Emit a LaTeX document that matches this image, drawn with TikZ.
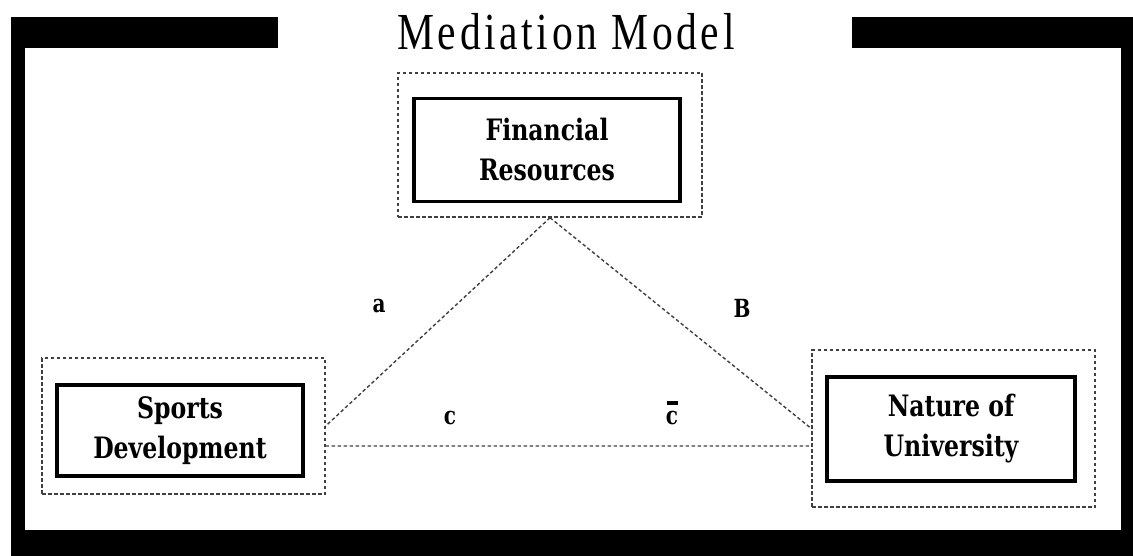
\documentclass[tikz,border=0pt]{standalone}
\usepackage{fontspec}
\setmainfont{Liberation Serif}
\newfontfamily\boxfont{DejaVu Serif}[FakeStretch=0.8]
\newfontfamily\titlefont{Liberation Serif}[FakeStretch=0.8,LetterSpace=7]
\tikzset{
  varbox/.style={draw=black, line width=3.5pt, align=center, inner sep=0pt,
    font=\boxfont\bfseries\fontsize{29.5}{40}\selectfont},
  outbox/.style={draw=black!75, line width=1.4pt, dash pattern=on 3.5pt off 2.5pt, inner sep=0pt},
  pathline/.style={draw=black!75, line width=1.4pt, dash pattern=on 3.5pt off 2.5pt},
  coef/.style={font=\boxfont\bfseries\fontsize{25}{25}\selectfont, inner sep=0pt}
}
\begin{document}
\begin{tikzpicture}[x=1pt,y=-1pt]
\useasboundingbox (0,0) rectangle (1133,556);
\fill (11,17) rectangle (278,48);
\fill (852,17) rectangle (1133,48);
\fill (11,17) rectangle (25,556);
\fill (1121,17) rectangle (1133,556);
\fill (11,530) rectangle (1133,556);
\node[anchor=base, inner sep=0pt, font=\titlefont\fontsize{52}{52}\selectfont] (title) at (566,50) {Mediation Model};

\node[outbox, minimum width=304pt, minimum height=144pt] (finout) at (550,145) {};
\node[varbox, minimum width=266pt, minimum height=103pt] (fin) at (547,150) {Financial\\Resources};
\node[outbox, minimum width=283pt, minimum height=136pt] (sportout) at (183.5,426) {};
\node[varbox, minimum width=246pt, minimum height=91pt] (sport) at (180,430.5) {Sports\\Development};
\node[outbox, minimum width=283pt, minimum height=157pt] (natout) at (953.5,428.5) {};
\node[varbox, minimum width=248pt, minimum height=104pt] (nat) at (951,429) {Nature of\\University};

\draw[pathline] (finout.south) -- (sportout.east);
\draw[pathline] (finout.south) -- (natout.west);
\draw[pathline] (sportout.-8) -- (natout.187);

\node[coef] (a) at (379,306) {a};
\node[coef] (b) at (742,308) {B};
\node[coef] (c) at (450,418) {c};
\node[coef] (cbar) at (672,413) {\shortstack{\rule{11pt}{3.5pt}\\[3pt]c}};
\end{tikzpicture}
\end{document}
